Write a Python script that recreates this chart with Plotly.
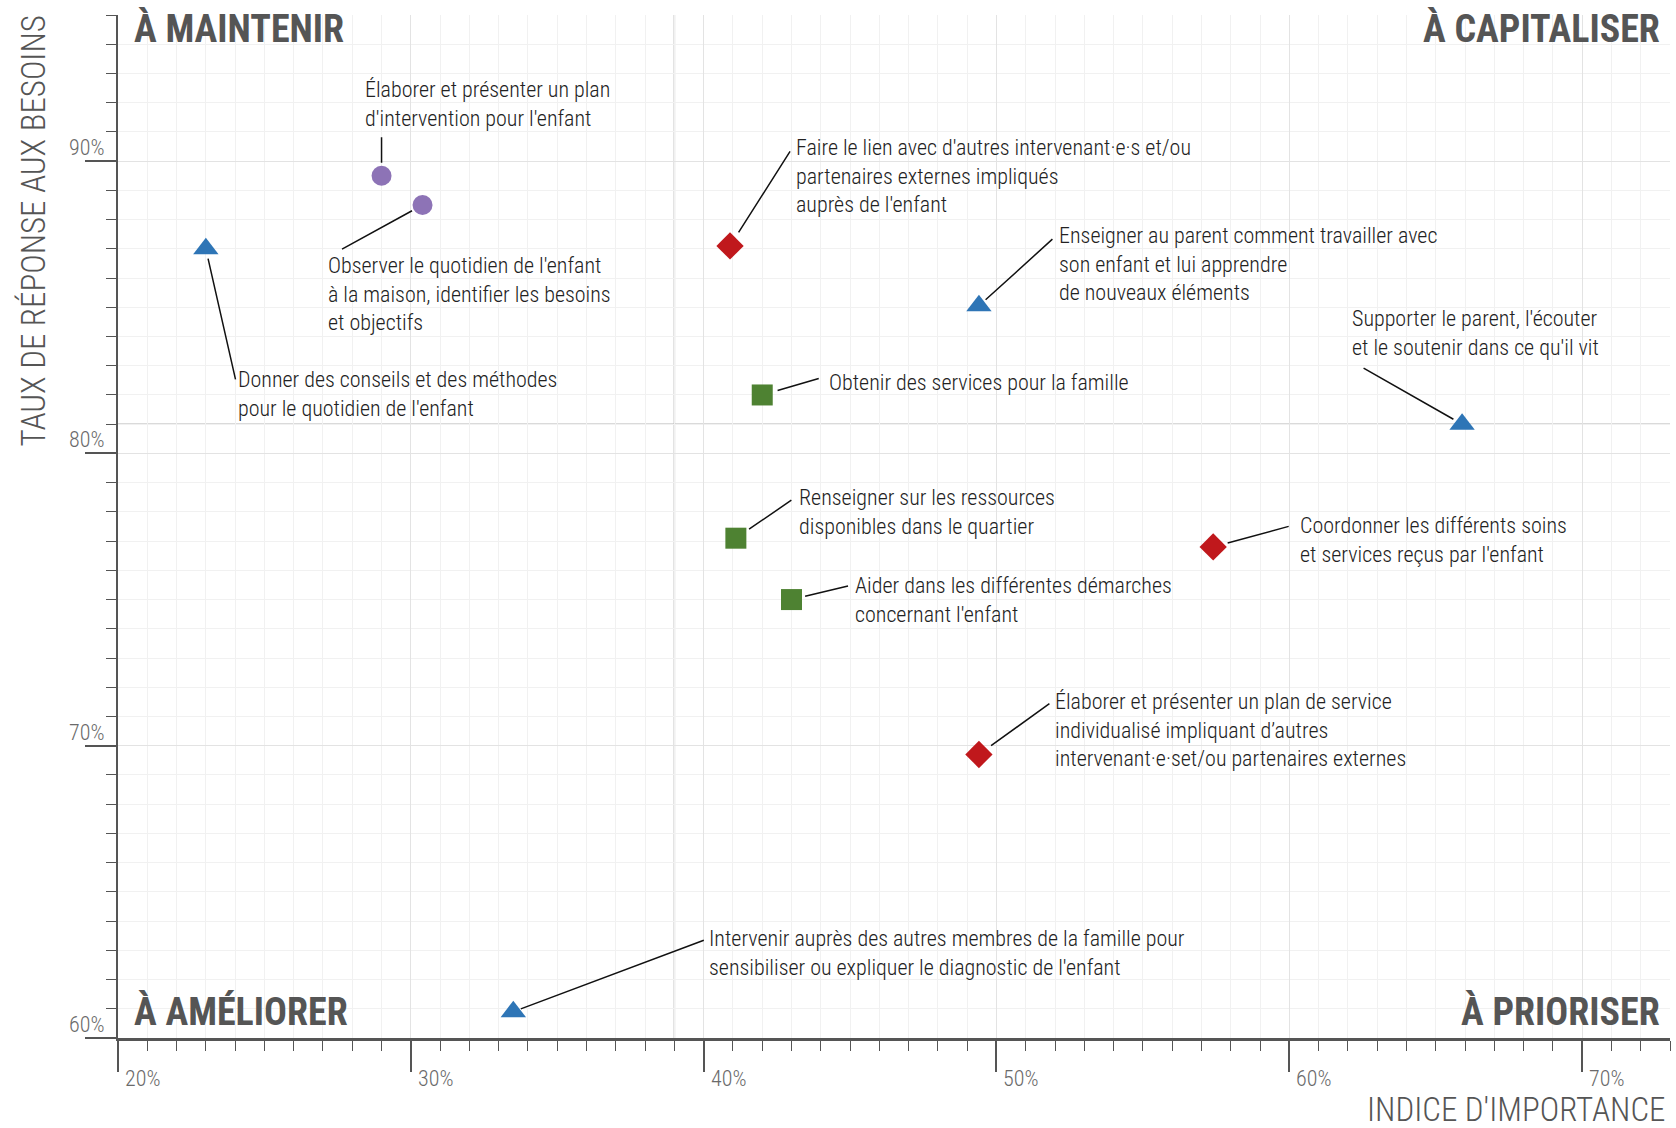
import plotly.graph_objects as go

# ---------------- data ----------------
labels = [
    "Élaborer et présenter un plan<br>d'intervention pour l'enfant",
    "Observer le quotidien de l'enfant<br>à la maison, identifier les besoins<br>et objectifs",
    "Donner des conseils et des méthodes<br>pour le quotidien de l'enfant",
    "Faire le lien avec d'autres intervenant·e·s et/ou<br>partenaires externes impliqués<br>auprès de l'enfant",
    "Enseigner au parent comment travailler avec<br>son enfant et lui apprendre<br>de nouveaux éléments",
    "Supporter le parent, l'écouter<br>et le soutenir dans ce qu'il vit",
    "Obtenir des services pour la famille",
    "Renseigner sur les ressources<br>disponibles dans le quartier",
    "Coordonner les différents soins<br>et services reçus par l'enfant",
    "Aider dans les différentes démarches<br>concernant l'enfant",
    "Élaborer et présenter un plan de service<br>individualisé impliquant d’autres<br>intervenant·e·set/ou partenaires externes",
    "Intervenir auprès des autres membres de la famille pour<br>sensibiliser ou expliquer le diagnostic de l'enfant",
]
importance = [29.0, 30.4, 23.0, 40.9, 49.4, 65.9, 42.0, 41.1, 57.4, 43.0, 49.4, 33.5]
response = [89.5, 88.5, 87.0, 87.1, 85.05, 81.0, 82.0, 77.1, 76.8, 75.0, 69.7, 60.9]
groups = ["violet", "violet", "bleu", "rouge", "bleu", "bleu", "vert", "vert", "rouge", "vert", "rouge", "bleu"]

x_tick_values = [20, 30, 40, 50, 60, 70]
y_tick_values = [60, 70, 80, 90]
x_threshold = 39
y_threshold = 81
quadrants = ["À MAINTENIR", "À CAPITALISER", "À AMÉLIORER", "À PRIORISER"]
x_title = "INDICE D'IMPORTANCE"
y_title = "TAUX DE RÉPONSE AUX BESOINS"

# ---------------- styles ----------------
FONT = "Liberation Sans Narrow, Arial Narrow, Roboto Condensed, DejaVu Sans Condensed, sans-serif"
GROUP_STYLE = {
    "violet": dict(symbol="circle", color="#8d73b6", size=20),
    "bleu": dict(symbol="triangle-up", color="#2e75b6", size=22),
    "rouge": dict(symbol="diamond", color="#c0181c", size=21),
    "vert": dict(symbol="square", color="#4e8232", size=21),
}
# label placement in pixels relative to the point: text dx, first-line dy, leader end ax/ay, gap
LABEL_LAYOUT = [
    (-16, -86, 0, -40, 13),
    (-94, 61, -82, 45, 12),
    (33, 131, 30, 132, 10),
    (67, -98, 61, -96, 16),
    (81, -70, 75, -68, 9),
    (-109, -105, -100, -57, 10),
    (68, -12, 58, -17, 16),
    (64, -40, 57, -39, 16),
    (88, -21, 77, -21, 15),
    (64, -14, 58, -14, 14),
    (77, -52, 72, -52, 15),
    (197, -73, 192, -72, 8),
]
HALF_LINE = 15
TEXT_DX = -3

fig = go.Figure()

for g, st in GROUP_STYLE.items():
    xs = [x for x, gg in zip(importance, groups) if gg == g]
    ys = [y for y, gg in zip(response, groups) if gg == g]
    fig.add_trace(go.Scatter(
        x=xs, y=ys, mode="markers", showlegend=False, hoverinfo="skip",
        marker=dict(symbol=st["symbol"], color=st["color"], size=st["size"], line=dict(width=0)),
    ))

for lab, x, y, (dx, dy, ax, ay, gap) in zip(labels, importance, response, LABEL_LAYOUT):
    fig.add_annotation(x=x, y=y, xref="x", yref="y", text="", showarrow=True,
                       ax=ax, ay=ay, arrowhead=0, arrowwidth=1.5, arrowcolor="#111111",
                       standoff=gap, startstandoff=0)
    fig.add_annotation(x=x, y=y, xref="x", yref="y", text=lab, showarrow=False,
                       xanchor="left", yanchor="top", align="left",
                       xshift=dx + TEXT_DX, yshift=-(dy - HALF_LINE),
                       font=dict(family=FONT, size=22, color="#222222", weight=300))

# quadrant lines
fig.add_shape(type="line", xref="x", yref="paper", x0=x_threshold, x1=x_threshold, y0=0, y1=1,
              line=dict(color="#b5b5b5", width=1.5), layer="below")
fig.add_shape(type="line", xref="paper", yref="y", x0=0, x1=1, y0=y_threshold, y1=y_threshold,
              line=dict(color="#b5b5b5", width=1.5), layer="below")

QFONT = dict(family=FONT, size=38, color="#555555", weight="bold")
q_pos = [(0, 1, "left", "top", 14, 10), (1, 1, "right", "top", -8, 10),
         (0, 0, "left", "bottom", 14, 2), (1, 0, "right", "bottom", -8, 2)]
for txt, (px, py, xa, ya, xs_, ys_) in zip(quadrants, q_pos):
    fig.add_annotation(x=px, y=py, xref="paper", yref="paper", text="<b>%s</b>" % txt,
                       showarrow=False, xanchor=xa, yanchor=ya, xshift=xs_, yshift=ys_,
                       font=QFONT)

TITLE_FONT = dict(family=FONT, size=33, color="#555555", weight=300)
fig.add_annotation(x=1, y=0, xref="paper", yref="paper", text=x_title, showarrow=False,
                   xanchor="right", yanchor="middle", xshift=-2, yshift=-71, font=TITLE_FONT)
fig.add_annotation(x=0, y=1, xref="paper", yref="paper", text=y_title, showarrow=False,
                   textangle=-90, xanchor="center", yanchor="top", xshift=-85, yshift=1,
                   font=TITLE_FONT)

# tick labels (placed on the axes' own scales)
TICK_FONT = dict(family=FONT, size=22, color="#6a6a6a", weight=300)
for v in x_tick_values:
    fig.add_annotation(x=v, y=0, xref="x", yref="paper", text="%d%%" % v, showarrow=False,
                       xanchor="left", yanchor="middle", xshift=5, yshift=-40, font=TICK_FONT)
for v in y_tick_values:
    fig.add_annotation(x=0, y=v, xref="paper", yref="y", text="%d%%" % v, showarrow=False,
                       xanchor="right", yanchor="bottom", xshift=-12, yshift=-1, font=TICK_FONT)

axis_common = dict(
    showline=True, linecolor="#555555", ticks="outside", ticklen=31, tickwidth=1.5,
    tickcolor="#555555", showgrid=True, gridcolor="#e3e3e3", gridwidth=1, zeroline=False,
    showticklabels=False,
    minor=dict(dtick=1, ticks="outside", ticklen=10, tickwidth=1, tickcolor="#555555",
               showgrid=True, gridcolor="#f1f1f1", gridwidth=1),
)
fig.update_xaxes(range=[20, 73], tickvals=x_tick_values, linewidth=3, **axis_common)
fig.update_yaxes(range=[60, 95], tickvals=y_tick_values, linewidth=2, **axis_common)

fig.update_layout(
    width=1676, height=1128,
    margin=dict(l=118, r=6, t=15, b=90),
    plot_bgcolor="white", paper_bgcolor="white",
    font=dict(family=FONT),
)

fig.write_html("out.html", config={"displayModeBar": False},
               post_script="document.body.style.margin='0';document.body.style.overflow='hidden';")
